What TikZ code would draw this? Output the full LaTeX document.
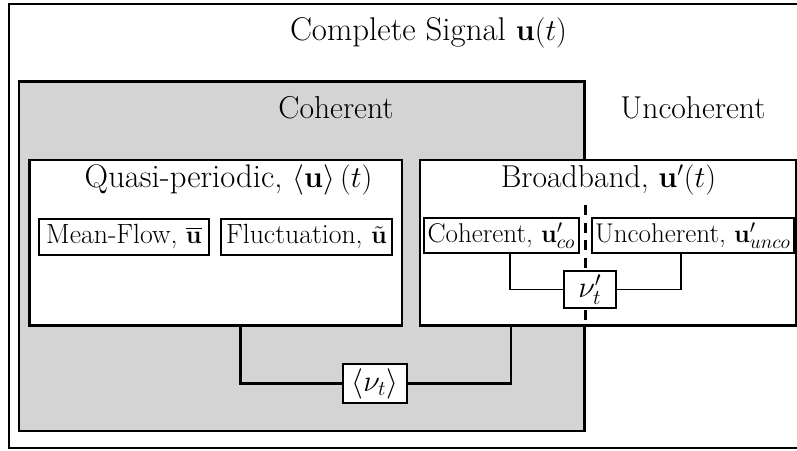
\documentclass[tikz,border=0pt]{standalone}
\usepackage{amsmath,amssymb}
\usepackage{tikz}
\usetikzlibrary{positioning,calc}

\begin{document}
\begin{tikzpicture}[
    font=\fontsize{18}{22}\selectfont,
    region/.style={draw, line width=1.6pt, inner sep=0pt},
    part/.style={draw, line width=0.9pt, minimum height=0.72cm, inner sep=1pt, font=\fontsize{15.8}{19}\selectfont},
    visc/.style={draw, fill=white, inner sep=1pt, font=\fontsize{17}{20}\selectfont},
    link/.style={line width=1.6pt},
    thinlink/.style={line width=1pt}
]
\clip (0,0) rectangle (15.94,-9);

% Regions
\node[region, minimum width=16.2cm, minimum height=8.88cm] (signal) at (8.28,-4.52) {};
\node[region, fill=black!17, minimum width=11.31cm, minimum height=6.99cm] (coh) at (6.035,-5.125) {};
\node[region, fill=white, minimum width=7.45cm, minimum height=3.31cm] (quasi) at (4.315,-4.855) {};
\node[region, fill=white, minimum width=7.52cm, minimum height=3.31cm] (broad) at (12.16,-4.855) {};

% Titles
\node[font=\fontsize{18.7}{22}\selectfont] (tsignal) at (8.57,-0.66) {Complete Signal $\mathbf{u}(t)$};
\node (tcoh) at (6.72,-2.16) {Coherent};
\node (tunco) at (13.86,-2.16) {Uncoherent};
\node[font=\fontsize{18.6}{22}\selectfont] (tquasi) at (4.57,-3.6) {Quasi-periodic, $\left\langle \mathbf{u} \right\rangle (t)$};
\node (tbroad) at (12.17,-3.6) {Broadband, $\mathbf{u}'(t)$};

% Components
\node[part, minimum width=3.4cm] (mean) at (2.48,-4.74) {Mean-Flow, $\overline{\mathbf{u}}$};
\node[part, minimum width=3.42cm] (fluct) at (6.13,-4.74) {Fluctuation, $\tilde{\mathbf{u}}$};
\node[part, minimum width=3.1cm, minimum height=0.7cm, font=\fontsize{15.4}{19}\selectfont] (bcoh) at (10.03,-4.71) {Coherent, $\mathbf{u}'_{co}$};
\node[part, minimum width=4.04cm, minimum height=0.7cm, font=\fontsize{15.4}{19}\selectfont] (bunco) at (13.86,-4.71) {Uncoherent, $\mathbf{u}'_{unco}$};

% Split between coherent and uncoherent broadband
\draw[line width=1.8pt, dash pattern=on 0.2cm off 0.15cm] (coh.east |- 0,-4.1) -- (coh.east |- broad.south);

% Eddy viscosities
\node[visc, line width=1.1pt, minimum width=1.04cm, minimum height=0.74cm] (nup) at (11.8,-5.79) {$\nu'_t$};
\node[visc, line width=1.6pt, minimum width=1.28cm, minimum height=0.78cm] (nut) at (7.5,-7.67) {$\left\langle \nu_t \right\rangle$};

% Connectors
\draw[thinlink] ([xshift=0.17cm]bcoh.south) |- (nup.west);
\draw[thinlink] ([xshift=-0.24cm]bunco.south) |- (nup.east);
\draw[link] ([xshift=0.49cm]quasi.south) |- (nut.west);
\draw[link] ([xshift=-1.94cm]broad.south) |- (nut.east);

\end{tikzpicture}
\end{document}
